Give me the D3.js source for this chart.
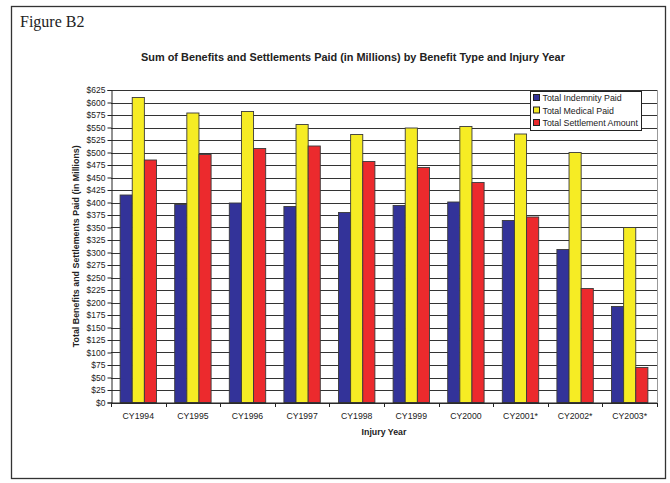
<!DOCTYPE html>
<html>
<head>
<meta charset="utf-8">
<script src="https://cdn.jsdelivr.net/npm/d3@7"></script>
<style>
  body { margin: 0; background: #fff; }
  text { font-family: Arial, 'Liberation Sans', sans-serif; fill: #222; }
</style>
</head>
<body>
<div id="chart"></div>
<script>
// data (millions of dollars)
const years = ['CY1994', 'CY1995', 'CY1996', 'CY1997', 'CY1998', 'CY1999', 'CY2000', 'CY2001*', 'CY2002*', 'CY2003*']
const indemnity = [415, 396, 399, 392, 380, 394, 401, 364, 306, 192]
const medical = [610, 579, 582, 556, 536, 549, 552, 537, 500, 350]
const settlement = [485, 496, 508, 513, 482, 470, 440, 371, 228, 70]
const seriesNames = ['Total Indemnity Paid', 'Total Medical Paid', 'Total Settlement Amount']
const colours = ['#333399', '#f6ec24', '#ec2a2d']
const yTicks = d3.range(0, 626, 25)

const width = 670
const height = 483
const margin = { top: 90, left: 111, right: 13, bottom: 80.5 }

const svg = d3.select('#chart').append('svg')
    .attr('width', width)
    .attr('height', height)

// outer frame
svg.append('rect')
    .attr('x', 11.5).attr('y', 6.5)
    .attr('width', 654).attr('height', 472)
    .attr('fill', 'none')
    .attr('stroke', '#333')
    .attr('stroke-width', 1.3)

svg.append('text')
    .text('Figure B2')
    .attr('x', 20).attr('y', 27)
    .style('font-family', "'Liberation Serif', 'Times New Roman', serif")
    .style('font-size', '16px')

const x = d3.scaleBand()
    .domain(years)
    .range([margin.left, width - margin.right])

const inner = d3.scaleBand()
    .domain(seriesNames)
    .range([0, x.bandwidth()])
    .paddingOuter(0.75)
    .paddingInner(0)

const y = d3.scaleLinear()
    .domain([0, 625])
    .range([height - margin.bottom, margin.top])

svg.append('text')
    .text('Sum of Benefits and Settlements Paid (in Millions) by Benefit Type and Injury Year')
    .attr('x', 353).attr('y', 61)
    .attr('text-anchor', 'middle')
    .style('font-size', '10.9px')
    .style('font-weight', 'bold')

// grid
svg.append('g')
    .selectAll('line')
    .data(yTicks)
    .enter().append('line')
    .attr('x1', margin.left).attr('x2', width - margin.right)
    .attr('y1', d => Math.round(y(d)) + 0.5)
    .attr('y2', d => Math.round(y(d)) + 0.5)
    .attr('stroke', '#333')
    .attr('stroke-width', 1)

svg.append('line')
    .attr('x1', width - margin.right + 0.5).attr('x2', width - margin.right + 0.5)
    .attr('y1', margin.top).attr('y2', y(0))
    .attr('stroke', '#999')

// bars
const series = [indemnity, medical, settlement]
const rows = years.map((yr, i) => ({ year: yr, vals: series.map((s, k) => ({ name: seriesNames[k], v: s[i], k: k })) }))

const groups = svg.append('g')
    .selectAll('g')
    .data(rows)
    .enter().append('g')
    .attr('transform', d => 'translate(' + x(d.year) + ',0)')

groups.selectAll('rect')
    .data(d => d.vals)
    .enter().append('rect')
    .attr('x', d => inner(d.name))
    .attr('width', inner.bandwidth())
    .attr('y', d => y(d.v))
    .attr('height', d => y(0) - y(d.v))
    .attr('fill', d => colours[d.k])
    .attr('stroke', '#3a3a3a')
    .attr('stroke-width', 0.9)

// y axis
const yAxis = svg.append('g')
    .attr('transform', 'translate(' + (margin.left + 0.5) + ',0)')
    .call(d3.axisLeft(y).tickValues(yTicks).tickSize(4).tickPadding(2).tickFormat(d => '$' + d))
yAxis.selectAll('text').style('font-size', '8.5px').style('font-family', "Arial, 'Liberation Sans', sans-serif").attr('fill', '#222')
yAxis.selectAll('line').attr('stroke', '#222')
yAxis.select('.domain').attr('stroke', '#222')

// x axis with boundary ticks
const xAxis = svg.append('g')
    .attr('transform', 'translate(0,' + (y(0) + 0.5) + ')')
xAxis.append('line')
    .attr('x1', margin.left).attr('x2', width - margin.right + 0.5)
    .attr('stroke', '#222')
xAxis.selectAll('.tk')
    .data(years.concat(['end']))
    .enter().append('line')
    .attr('class', 'tk')
    .attr('x1', (d, i) => Math.round(margin.left + i * x.step()) + 0.5)
    .attr('x2', (d, i) => Math.round(margin.left + i * x.step()) + 0.5)
    .attr('y1', 0).attr('y2', 4)
    .attr('stroke', '#222')
xAxis.selectAll('.lb')
    .data(years)
    .enter().append('text')
    .attr('x', d => x(d) + x.bandwidth() / 2)
    .attr('y', 16)
    .attr('text-anchor', 'middle')
    .style('font-size', '8.7px')
    .text(d => d)

svg.append('text')
    .text('Injury Year')
    .attr('x', (margin.left + width - margin.right) / 2)
    .attr('y', 435)
    .attr('text-anchor', 'middle')
    .style('font-size', '8.8px')
    .style('font-weight', 'bold')

svg.append('text')
    .text('Total Benefits and Settlements Paid (in Millions)')
    .attr('transform', 'translate(79,' + ((margin.top + y(0)) / 2) + ') rotate(-90)')
    .attr('text-anchor', 'middle')
    .style('font-size', '8.9px')
    .style('font-weight', 'bold')

// legend
const legend = svg.append('g')
    .attr('transform', 'translate(530.5,91.5)')
legend.append('rect')
    .attr('width', 111).attr('height', 39)
    .attr('fill', '#fff')
    .attr('stroke', '#222')

const items = legend.selectAll('.item')
    .data(seriesNames)
    .enter().append('g')
    .attr('transform', (d, i) => 'translate(3,' + (3 + i * 12.5) + ')')
items.append('rect')
    .attr('width', 6).attr('height', 6)
    .attr('fill', (d, i) => colours[i])
    .attr('stroke', '#222')
items.append('text')
    .text(d => d)
    .attr('x', 9).attr('y', 6.8)
    .style('font-size', '8.8px')
</script>
</body>
</html>
